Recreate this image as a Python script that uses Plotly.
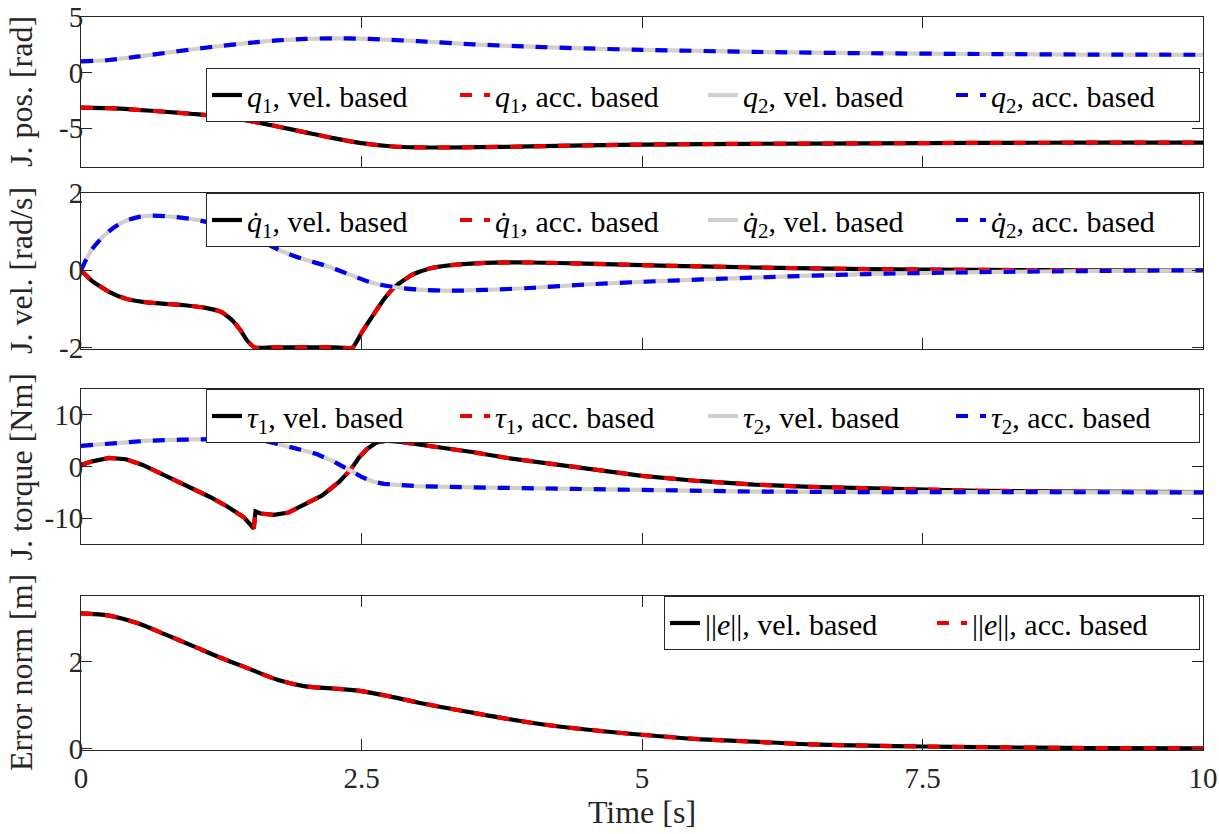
import plotly.graph_objects as go

FONT = "Liberation Serif"

# ---------------- data ----------------
# Joint positions
t_q1 = [0, 0.25, 0.5, 0.75, 1.0, 1.25, 1.5, 1.75, 2.0, 2.25, 2.5, 2.75, 3.0, 3.5, 4.0, 4.5, 5.0, 6.0, 7.0, 8.0, 9.0, 10.0]
q1 = [-3.15, -3.21, -3.35, -3.53, -3.73, -3.97, -4.35, -4.85, -5.38, -5.9, -6.35, -6.63, -6.74, -6.72, -6.65, -6.56, -6.48, -6.41, -6.37, -6.33, -6.31, -6.3]
t_q2 = [0, 0.25, 0.5, 0.75, 1.0, 1.25, 1.5, 1.75, 2.0, 2.25, 2.5, 2.75, 3.0, 3.5, 4.0, 4.5, 5.0, 6.0, 7.0, 8.0, 9.0, 10.0]
q2 = [1.0, 1.13, 1.43, 1.77, 2.1, 2.4, 2.67, 2.89, 3.03, 3.08, 3.05, 2.95, 2.82, 2.54, 2.33, 2.17, 2.05, 1.86, 1.74, 1.67, 1.62, 1.6]

# Joint velocities
t_dq1 = [0, 0.1, 0.25, 0.4, 0.55, 0.7, 0.9, 1.1, 1.25, 1.35, 1.42, 1.48, 1.55, 1.7, 2.25, 2.42, 2.5, 2.6, 2.7, 2.8, 2.95, 3.1, 3.3, 3.6, 4.0, 4.5, 5.0, 5.5, 6.0, 7.0, 8.0, 9.0, 10.0]
dq1 = [0, -0.28, -0.56, -0.74, -0.82, -0.86, -0.9, -0.97, -1.08, -1.3, -1.55, -1.82, -2.0, -2.0, -2.0, -2.0, -1.62, -1.18, -0.75, -0.42, -0.12, 0.04, 0.13, 0.19, 0.2, 0.17, 0.13, 0.1, 0.07, 0.03, 0.01, 0.0, 0.0]
t_dq2 = [0, 0.05, 0.1, 0.2, 0.3, 0.4, 0.5, 0.6, 0.8, 1.0, 1.2, 1.4, 1.55, 1.7, 1.85, 2.0, 2.2, 2.4, 2.6, 2.8, 3.0, 3.3, 3.6, 4.0, 4.5, 5.0, 6.0, 7.0, 8.0, 9.0, 10.0]
dq2 = [0, 0.3, 0.55, 0.88, 1.12, 1.28, 1.37, 1.41, 1.39, 1.32, 1.2, 1.07, 0.9, 0.62, 0.42, 0.27, 0.1, -0.12, -0.33, -0.44, -0.5, -0.53, -0.51, -0.46, -0.37, -0.3, -0.19, -0.1, -0.05, -0.02, 0.0]

# Joint torques
t_tau1 = [0, 0.1, 0.25, 0.4, 0.55, 0.7, 0.85, 1.0, 1.15, 1.3, 1.45, 1.54, 1.555, 1.6, 1.72, 1.85, 2.0, 2.15, 2.3, 2.4, 2.48, 2.55, 2.63, 2.72, 2.85, 3.0, 3.25, 3.5, 3.8, 4.1, 4.5, 5.0, 5.5, 6.0, 6.5, 7.0, 7.5, 8.0, 9.0, 10.0]
tau1 = [0.3, 1.0, 1.65, 1.4, 0.3, -1.2, -2.8, -4.4, -5.9, -7.7, -9.8, -12.0, -8.7, -9.1, -9.35, -8.9, -7.3, -5.6, -3.0, -0.7, 1.8, 3.4, 4.6, 5.0, 4.75, 4.3, 3.45, 2.75, 1.65, 0.8, -0.4, -1.8, -2.8, -3.5, -3.95, -4.25, -4.5, -4.7, -4.88, -4.95]
t_tau2 = [0, 0.3, 0.6, 0.9, 1.2, 1.4, 1.5, 1.54, 1.555, 1.65, 1.8, 1.95, 2.1, 2.25, 2.4, 2.5, 2.6, 2.7, 2.85, 3.0, 3.5, 4.0, 5.0, 6.0, 7.0, 8.0, 10.0]
tau2 = [4.0, 4.6, 5.0, 5.2, 5.3, 5.6, 6.0, 6.6, 5.3, 4.9, 4.2, 3.3, 2.4, 1.0, -0.8, -2.0, -2.9, -3.35, -3.6, -3.8, -4.05, -4.25, -4.6, -4.85, -4.95, -5.0, -5.0]

# Error norm
t_err = [0, 0.25, 0.5, 0.75, 1.0, 1.25, 1.5, 1.75, 2.0, 2.25, 2.5, 2.75, 3.0, 3.5, 4.0, 4.5, 5.0, 5.5, 6.0, 6.5, 7.0, 7.5, 8.0, 9.0, 10.0]
err = [3.1, 3.05, 2.88, 2.62, 2.35, 2.08, 1.83, 1.58, 1.43, 1.38, 1.32, 1.2, 1.06, 0.82, 0.6, 0.44, 0.32, 0.22, 0.16, 0.1, 0.07, 0.05, 0.035, 0.015, 0.005]

x_ticks = [0, 2.5, 5, 7.5, 10]
x_tick_labels = ["0", "2.5", "5", "7.5", "10"]
y_labels = ["J. pos. [rad]", "J. vel. [rad/s]", "J. torque [Nm]", "Error norm [m]"]
y_ticks = [[-5, 0, 5], [-2, 0, 2], [-10, 0, 10], [0, 2]]
y_tick_labels = [["-5", "0", "5"], ["-2", "0", "2"], ["-10", "0", "10"], ["0", "2"]]
y_ranges = [[-8.5, 5], [-2.04, 2], [-15, 15], [-0.03, 3.5]]

names_pos = ["<i>q</i><sub>1</sub>, vel. based", "<i>q</i><sub>1</sub>, acc. based",
             "<i>q</i><sub>2</sub>, vel. based", "<i>q</i><sub>2</sub>, acc. based"]
names_vel = ["<i>q\u0307</i><sub>1</sub>, vel. based", "<i>q\u0307</i><sub>1</sub>, acc. based",
             "<i>q\u0307</i><sub>2</sub>, vel. based", "<i>q\u0307</i><sub>2</sub>, acc. based"]
names_tau = ["<i>τ</i><sub>1</sub>, vel. based", "<i>τ</i><sub>1</sub>, acc. based",
             "<i>τ</i><sub>2</sub>, vel. based", "<i>τ</i><sub>2</sub>, acc. based"]
names_err = ["||<i>e</i>||, vel. based", "||<i>e</i>||, acc. based"]

# ---------------- styles ----------------
BLACK, RED, GRAY, BLUE = "#000000", "#ee0000", "#d3d0cc", "#0000ee"
DASH = "12px,12px"
LW = 4.2
AXC = "#262626"

fig = go.Figure()


def add(t, y, name, color, dash, ax, leg, shape="spline", smooth=0.8):
    line = dict(color=color, width=LW, dash=dash, shape=shape)
    if shape == "spline":
        line["smoothing"] = smooth
    fig.add_trace(go.Scatter(
        x=t, y=y, name=name, mode="lines", line=line,
        xaxis="x" if ax == 1 else f"x{ax}",
        yaxis="y" if ax == 1 else f"y{ax}",
        legend=leg, showlegend=True))


add(t_q1, q1, names_pos[0], BLACK, "solid", 1, "legend")
add(t_q1, q1, names_pos[1], RED, DASH, 1, "legend")
add(t_q2, q2, names_pos[2], GRAY, "solid", 1, "legend")
add(t_q2, q2, names_pos[3], BLUE, DASH, 1, "legend")

add(t_dq1, dq1, names_vel[0], BLACK, "solid", 2, "legend2", smooth=0.5)
add(t_dq1, dq1, names_vel[1], RED, DASH, 2, "legend2", smooth=0.5)
add(t_dq2, dq2, names_vel[2], GRAY, "solid", 2, "legend2")
add(t_dq2, dq2, names_vel[3], BLUE, DASH, 2, "legend2")

add(t_tau1, tau1, names_tau[0], BLACK, "solid", 3, "legend3", shape="linear")
add(t_tau1, tau1, names_tau[1], RED, DASH, 3, "legend3", shape="linear")
add(t_tau2, tau2, names_tau[2], GRAY, "solid", 3, "legend3", shape="linear")
add(t_tau2, tau2, names_tau[3], BLUE, DASH, 3, "legend3", shape="linear")

add(t_err, err, names_err[0], BLACK, "solid", 4, "legend4")
add(t_err, err, names_err[1], RED, DASH, 4, "legend4")

# ---------------- layout ----------------
W, H = 1219, 834
ML, MR, MT, MB = 81, 16, 17, 84
PH = H - MT - MB
PW = W - ML - MR


def py(px):
    return (H - MB - px) / PH


domains = [[py(167), py(MT)], [py(349), py(193)], [py(544), py(389)], [py(750), py(596)]]

axis_common = dict(showline=True, linecolor=AXC, linewidth=1, mirror="ticks",
                   ticks="inside", ticklen=11, tickwidth=1, tickcolor=AXC,
                   showgrid=False, zeroline=False, automargin=False,
                   ticklabeloverflow="allow",
                   tickfont=dict(family=FONT, size=29, color=AXC))

layout = dict(width=W, height=H, margin=dict(l=ML, r=MR, t=MT, b=MB),
              paper_bgcolor="white", plot_bgcolor="white",
              font=dict(family=FONT, size=30, color="black"))

annotations = []
for i in range(4):
    k = "" if i == 0 else str(i + 1)
    xa = dict(axis_common, range=[0, 10], tickvals=x_ticks, ticktext=x_tick_labels,
              anchor="y" + k, domain=[0, 1], showticklabels=(i == 3))
    if i > 0:
        xa["matches"] = "x"
    if i == 3:
        xa["title"] = dict(text="Time [s]", font=dict(family=FONT, size=32, color=AXC), standoff=2)
        xa["ticklabelstandoff"] = 2
    layout["xaxis" + k] = xa
    layout["yaxis" + k] = dict(axis_common, range=y_ranges[i], tickvals=y_ticks[i],
                               ticktext=y_tick_labels[i], ticklabelstandoff=-9,
                               anchor="x" + k, domain=domains[i])
    annotations.append(dict(text=y_labels[i], textangle=-90, xref="paper", yref="paper",
                            x=(21 - ML) / PW, y=(domains[i][0] + domains[i][1]) / 2,
                            xanchor="center", yanchor="middle", showarrow=False,
                            font=dict(family=FONT, size=32, color=AXC)))
layout["annotations"] = annotations

leg_common = dict(orientation="h", xanchor="right", yanchor="top", x=(1200 - ML) / PW,
                  bgcolor="white", bordercolor=AXC, borderwidth=1,
                  font=dict(family=FONT, size=30, color="black"),
                  itemwidth=30, entrywidthmode="pixels", tracegroupgap=0)
layout["legend"] = dict(leg_common, y=py(68), entrywidth=203)
layout["legend2"] = dict(leg_common, y=py(193), entrywidth=203)
layout["legend3"] = dict(leg_common, y=py(389), entrywidth=203)
layout["legend4"] = dict(leg_common, y=py(596), entrywidth=222)

fig.update_layout(layout)
fig.write_html("out.html", config={"displayModeBar": False},
               post_script="document.body.style.margin='0';document.body.style.overflow='hidden';")
